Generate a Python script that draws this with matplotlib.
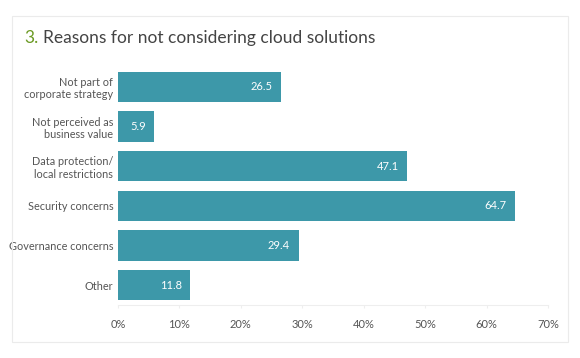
import matplotlib.pyplot as plt
from matplotlib.patches import Rectangle

categories = ['Not part of\ncorporate strategy', 'Not perceived as\nbusiness value',
              'Data protection/\nlocal restrictions', 'Security concerns',
              'Governance concerns', 'Other']
values = [26.5, 5.9, 47.1, 64.7, 29.4, 11.8]
xticks = [0, 10, 20, 30, 40, 50, 60, 70]
xtick_labels = ['0%', '10%', '20%', '30%', '40%', '50%', '60%', '70%']

plt.rcParams['font.family'] = ['Lato', 'DejaVu Sans']
bar_color = '#3d98a9'
text_color = '#555555'

fig = plt.figure(figsize=(5.8, 3.58), dpi=100)
fig.patch.set_facecolor('white')

# light frame round the chart
fig.patches.append(Rectangle((12 / 580, 1 - 342 / 358), 556 / 580, 326 / 358,
                             transform=fig.transFigure, fill=False,
                             edgecolor='#ebebeb', linewidth=0.8))

ax = fig.add_axes([118 / 580, 1 - 305 / 358, 430 / 580, 238 / 358])
ypos = list(range(len(categories)))
ax.barh(ypos, values, height=0.76, color=bar_color)
ax.set_ylim(len(categories) - 0.5, -0.5)
ax.set_xlim(0, 70)

for y, v in zip(ypos, values):
    ax.text(v - 1.4, y, f'{v:.1f}', color='white', ha='right', va='center', fontsize=8)

ax.set_yticks(ypos)
ax.set_yticklabels(categories, fontsize=7.8, color=text_color, linespacing=1.15)
ax.set_xticks(xticks)
ax.set_xticklabels(xtick_labels, fontsize=8, color=text_color)
ax.tick_params(axis='y', length=0, pad=3.5)
ax.tick_params(axis='x', length=2, color='#eeeeee', pad=8)
for s in ['top', 'right', 'left']:
    ax.spines[s].set_visible(False)
ax.spines['bottom'].set_color('#eeeeee')

fig.text(24 / 580, 1 - 38 / 358, '3.', color='#6b9a23', fontsize=12.5, va='center')
fig.text(43 / 580, 1 - 38 / 358, 'Reasons for not considering cloud solutions',
         color='#444444', fontsize=12.5, va='center')

plt.savefig('out.png', dpi=100)
